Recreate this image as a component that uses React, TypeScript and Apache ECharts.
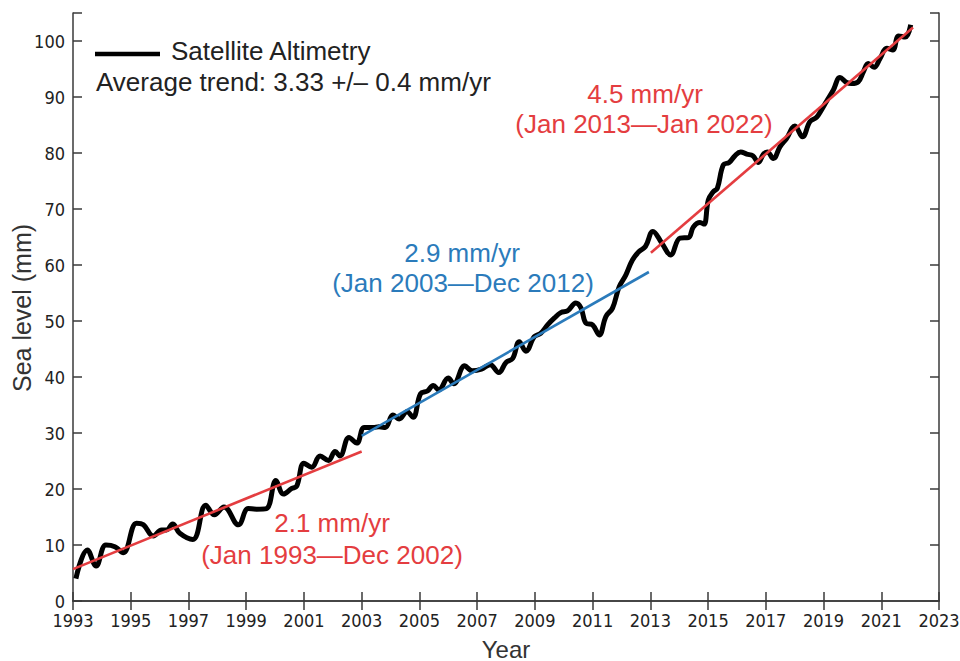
import React, { useEffect, useRef } from "react";
import * as echarts from "echarts";

// Satellite altimetry sea level
const years: number[] = [
  1993.1, 1993.5, 1993.8, 1994.14, 1994.45, 1994.74, 1995.2, 1995.44, 1995.78, 1996.07,
  1996.24, 1996.45, 1996.7, 1997.15, 1997.6, 1997.9, 1998.23, 1998.73, 1999.07, 1999.36,
  1999.7, 2000.03, 2000.29, 2000.58, 2000.75, 2001.0, 2001.27, 2001.56, 2001.85, 2002.08,
  2002.25, 2002.56, 2002.83, 2003.09, 2003.4, 2003.6, 2003.82, 2004.08, 2004.3, 2004.57,
  2004.78, 2005.04, 2005.28, 2005.48, 2005.67, 2006.0, 2006.19, 2006.57, 2006.83, 2007.15,
  2007.45, 2007.75, 2008.0, 2008.23, 2008.46, 2008.69, 2008.98, 2009.2, 2009.44, 2009.67,
  2009.9, 2010.13, 2010.42, 2010.6, 2010.77, 2011.0, 2011.23, 2011.46, 2011.69, 2011.92,
  2012.15, 2012.38, 2012.61, 2012.83, 2013.09, 2013.4, 2013.7, 2014.03, 2014.32, 2014.49,
  2014.72, 2014.86, 2015.01, 2015.18, 2015.32, 2015.53, 2015.73, 2015.93, 2016.13, 2016.34,
  2016.55, 2016.74, 2016.92, 2017.05, 2017.26, 2017.49, 2017.72, 2018.01, 2018.27, 2018.53,
  2018.76, 2018.93, 2019.1, 2019.34, 2019.57, 2019.8, 2019.97, 2020.2, 2020.38, 2020.55,
  2020.75, 2020.96, 2021.19, 2021.4, 2021.6, 2021.83, 2022.02,
];
const seaLevel: number[] = [
  4.0, 9.1, 6.25, 10.0, 9.7, 8.6, 13.9, 13.6, 11.6, 12.7,
  12.7, 13.75, 12.1, 11.0, 17.1, 15.4, 16.8, 13.6, 16.5, 16.4,
  16.5, 21.5, 19.1, 20.1, 20.5, 24.6, 23.9, 25.9, 25.1, 26.7,
  25.9, 29.2, 28.2, 31.0, 31.0, 31.1, 31.0, 33.2, 32.5, 33.8,
  32.8, 37.0, 37.5, 38.5, 37.7, 39.8, 38.8, 42.0, 41.1, 41.4,
  42.2, 40.8, 42.6, 43.3, 46.3, 44.6, 47.2, 47.8, 49.3, 50.5,
  51.5, 51.8, 53.2, 52.3, 49.6, 49.3, 47.5, 50.8, 52.3, 56.1,
  58.2, 60.9, 62.4, 63.3, 66.0, 63.9, 61.8, 64.8, 64.9, 66.8,
  67.6, 67.3, 71.6, 73.1, 73.7, 77.9, 78.3, 79.5, 80.2, 79.8,
  79.5, 78.3, 79.8, 80.2, 79.0, 81.1, 82.6, 84.8, 82.9, 85.6,
  86.4, 87.7, 89.2, 91.25, 93.5, 92.6, 92.4, 92.7, 94.5, 96.0,
  95.3, 96.9, 98.7, 98.4, 100.9, 100.7, 102.9,
];

// Trend line end points
const trend1Years = [1993, 2003];
const trend1Values = [5.7, 26.7];
const trend2Years = [2003, 2012.95];
const trend2Values = [29.5, 58.75];
const trend3Years = [2013.02, 2022.1];
const trend3Values = [62.2, 102.4];

const RED = "#e43d40";
const BLUE = "#2b7bbb";
const AXIS = "#3a3a3a";
const TEXT_FONT = "'Liberation Sans', Arial, sans-serif";
const TICK_FONT = "'DejaVu Sans Condensed', 'Liberation Sans Narrow', sans-serif";

const zip = (xs: number[], ys: number[]) => xs.map((x, i) => [x, ys[i]]);

export default function App() {
  const ref = useRef<HTMLDivElement>(null);
  useEffect(() => {
    if (!ref.current) return;
    const chart = echarts.init(ref.current, undefined, { renderer: "svg" });
    const axisLine = { show: true, lineStyle: { color: AXIS, width: 1.5 } };
    const axisTick = { show: true, inside: true, length: 9, lineStyle: { color: AXIS, width: 1.5 } };
    const trendSeries = (name: string, xs: number[], ys: number[], color: string) => ({
      name,
      type: "line",
      data: zip(xs, ys),
      showSymbol: false,
      lineStyle: { color, width: 2.6 },
      z: 3,
      silent: true,
    });
    chart.setOption({
      animation: false,
      grid: { left: 73, right: 21, top: 13, bottom: 60, containLabel: false, outerBoundsMode: "none" },
      xAxis: [
        {
          type: "value",
          min: 1993,
          max: 2023,
          interval: 2,
          name: "Year",
          nameLocation: "middle",
          nameGap: 36,
          nameTextStyle: { fontFamily: TEXT_FONT, fontSize: 24, color: "#333" },
          axisLine,
          axisTick,
          splitLine: { show: false },
          axisLabel: {
            fontFamily: TICK_FONT,
            fontSize: 18,
            lineHeight: 16,
            color: "#222",
            margin: 11,
            formatter: (v: number) => String(v),
          },
        },
        {
          type: "value",
          position: "top",
          min: 1993,
          max: 2023,
          interval: 2,
          axisLine,
          axisTick,
          splitLine: { show: false },
          axisLabel: { show: false },
        },
      ],
      yAxis: [
        {
          type: "value",
          min: 0,
          max: 105,
          interval: 10,
          axisLine,
          axisTick,
          splitLine: { show: false },
          axisLabel: {
            fontFamily: TICK_FONT,
            fontSize: 18,
            lineHeight: 16,
            color: "#222",
            margin: 8,
            formatter: (v: number) => (v % 10 === 0 ? String(v) : ""),
          },
        },
        {
          type: "value",
          position: "right",
          min: 0,
          max: 105,
          interval: 10,
          axisLine,
          axisTick,
          splitLine: { show: false },
          axisLabel: { show: false },
        },
      ],
      series: [
        {
          name: "Satellite Altimetry",
          type: "line",
          data: zip(years, seaLevel),
          smooth: 0.4,
          showSymbol: false,
          lineStyle: { color: "#000", width: 5 },
          z: 2,
          silent: true,
        },
        trendSeries("Trend 1993-2002", trend1Years, trend1Values, RED),
        trendSeries("Trend 2003-2012", trend2Years, trend2Values, BLUE),
        trendSeries("Trend 2013-2022", trend3Years, trend3Values, RED),
      ],
      graphic: [
        {
          type: "text",
          x: 22,
          y: 308,
          rotation: Math.PI / 2,
          style: {
            text: "Sea level (mm)",
            fontFamily: TEXT_FONT,
            fontSize: 25,
            fill: "#333",
            align: "center",
            verticalAlign: "middle",
          },
        },
        {
          type: "line",
          shape: { x1: 95, y1: 54, x2: 160, y2: 54 },
          style: { stroke: "#000", lineWidth: 4.5 },
        },
        {
          type: "text",
          x: 171,
          y: 50.5,
          style: {
            text: "Satellite Altimetry",
            fontFamily: TEXT_FONT,
            fontSize: 26,
            fill: "#222",
            align: "left",
            verticalAlign: "middle",
          },
        },
        {
          type: "text",
          x: 96,
          y: 81.5,
          style: {
            text: "Average trend: 3.33 +/\u2013 0.4 mm/yr",
            fontFamily: TEXT_FONT,
            fontSize: 26,
            fill: "#222",
            align: "left",
            verticalAlign: "middle",
          },
        },
        ...[
          { t: "2.1 mm/yr", x: 332, y: 523, c: RED },
          { t: "(Jan 1993\u2014Dec 2002)", x: 332, y: 554.5, c: RED },
          { t: "2.9 mm/yr", x: 462, y: 252.5, c: BLUE },
          { t: "(Jan 2003\u2014Dec 2012)", x: 463, y: 283, c: BLUE },
          { t: "4.5 mm/yr", x: 645, y: 93.5, c: RED },
          { t: "(Jan 2013\u2014Jan 2022)", x: 644, y: 124, c: RED },
        ].map((a) => ({
          type: "text",
          x: a.x,
          y: a.y,
          style: {
            text: a.t,
            fontFamily: TEXT_FONT,
            fontSize: 26,
            fill: a.c,
            align: "center",
            verticalAlign: "middle",
          },
        })),
      ],
    });
    return () => chart.dispose();
  }, []);
  return (
    <div
      ref={ref}
      style={{ position: "fixed", left: 0, top: 0, width: 960, height: 661, background: "#fff" }}
    />
  );
}
